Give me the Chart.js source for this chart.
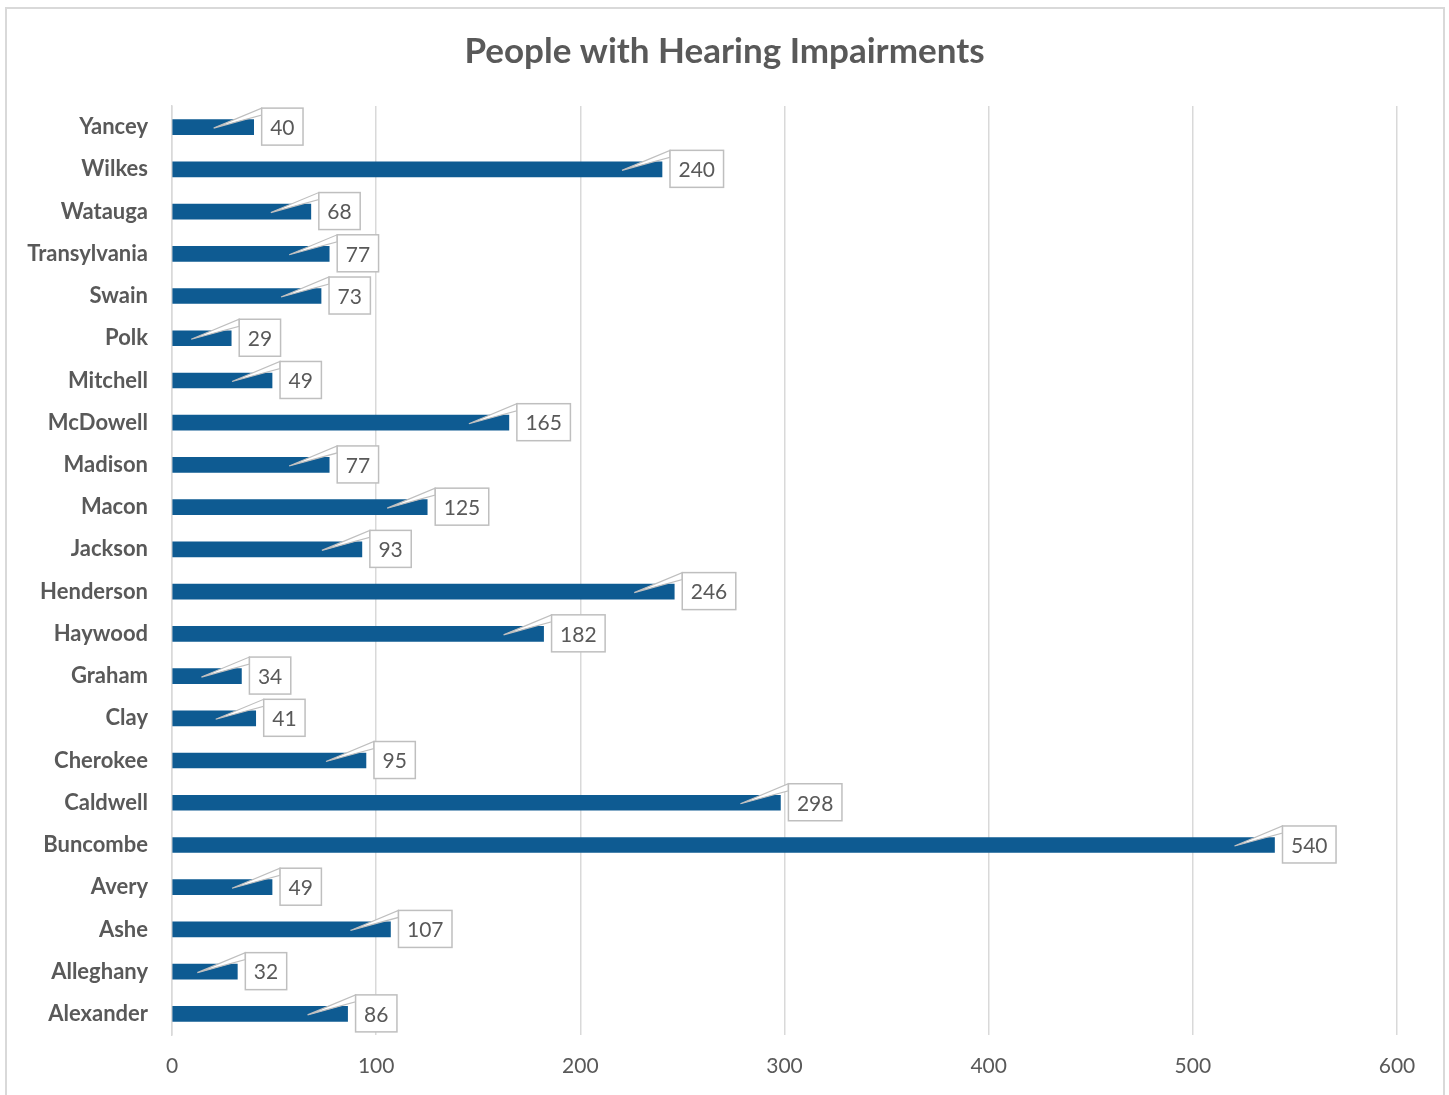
<!DOCTYPE html>
<html>
<head>
<meta charset="utf-8">
<title>People with Hearing Impairments</title>
<script src="https://cdn.jsdelivr.net/npm/chart.js@4"></script>
<style>
  html, body { margin: 0; padding: 0; background: #fff; overflow: hidden; }
  #frame {
    position: absolute; left: 5px; top: 7px;
    width: 1440px; height: 1200px;
    border: 2px solid #d9d9d9; box-sizing: border-box;
  }
  #chart { position: absolute; left: 0; top: 0; }
</style>
</head>
<body>
<div id="frame"></div>
<canvas id="chart" width="1449" height="1095"></canvas>
<script>
// Counties, listed top to bottom as drawn
const counties = [
  "Yancey", "Wilkes", "Watauga", "Transylvania", "Swain", "Polk", "Mitchell",
  "McDowell", "Madison", "Macon", "Jackson", "Henderson", "Haywood", "Graham",
  "Clay", "Cherokee", "Caldwell", "Buncombe", "Avery", "Ashe", "Alleghany", "Alexander"
];
const people = [
  40, 240, 68, 77, 73, 29, 49,
  165, 77, 125, 93, 246, 182, 34,
  41, 95, 298, 540, 49, 107, 32, 86
];
const xTicks = [0, 100, 200, 300, 400, 500, 600];

const textGrey = "#595959";
const gridGrey = "#d9d9d9";
const barBlue = "#0e5b92";
const fontFamily = "Lato, 'Open Sans', sans-serif";

// Callout boxes with a thin pointer back into each bar
const callouts = {
  id: "callouts",
  afterDatasetsDraw(chart) {
    const ctx = chart.ctx;
    const meta = chart.getDatasetMeta(0);
    ctx.save();
    ctx.font = "21px " + fontFamily;
    meta.data.forEach((bar, i) => {
      const label = String(people[i]);
      const endX = bar.x;
      const cy = bar.y;
      const w = ctx.measureText(label).width + 17;
      const h = 37;
      const left = endX + 8;
      const top = cy - 19;

      // pointer wedge
      ctx.beginPath();
      ctx.moveTo(endX - 40, cy + 1);
      ctx.lineTo(left, top);
      ctx.lineTo(left, top + 7);
      ctx.closePath();
      ctx.fillStyle = "#fff";
      ctx.fill();
      ctx.lineWidth = 1.2;
      ctx.strokeStyle = "#bfbfbf";
      ctx.stroke();

      // box
      ctx.fillStyle = "#fff";
      ctx.fillRect(left, top, w, h);
      ctx.lineWidth = 1.5;
      ctx.strokeRect(left, top, w, h);

      ctx.fillStyle = textGrey;
      ctx.textAlign = "center";
      ctx.textBaseline = "middle";
      ctx.fillText(label, left + w / 2, cy + 1);
    });
    ctx.restore();
  }
};

new Chart(document.getElementById("chart"), {
  type: "bar",
  data: {
    labels: counties,
    datasets: [{
      data: people,
      backgroundColor: barBlue,
      borderWidth: 0,
      barThickness: 15
    }]
  },
  options: {
    indexAxis: "y",
    responsive: false,
    animation: false,
    layout: { padding: 0 },
    scales: {
      x: {
        min: 0,
        max: 600,
        afterBuildTicks: (scale) => { scale.ticks = xTicks.map(v => ({ value: v })); },
        afterFit: (scale) => {
          scale.height = 60;
          scale.paddingRight = 52;
        },
        grid: { color: gridGrey, lineWidth: 1.5, drawTicks: false },
        border: { display: false },
        ticks: {
          padding: 19,
          color: textGrey,
          font: { family: fontFamily, size: 21 }
        }
      },
      y: {
        afterFit: (scale) => { scale.width = 172; },
        grid: { display: false, drawTicks: false },
        border: { display: true, color: gridGrey, width: 1.5 },
        ticks: {
          padding: 24,
          color: textGrey,
          font: { family: fontFamily, size: 22, weight: "bold" }
        }
      }
    },
    plugins: {
      legend: { display: false },
      tooltip: { enabled: false },
      title: {
        display: true,
        text: "People with Hearing Impairments",
        color: textGrey,
        font: { family: fontFamily, size: 35, weight: "bold", lineHeight: 1.2 },
        padding: { top: 31, bottom: 33 }
      }
    }
  },
  plugins: [callouts]
});
</script>
</body>
</html>
